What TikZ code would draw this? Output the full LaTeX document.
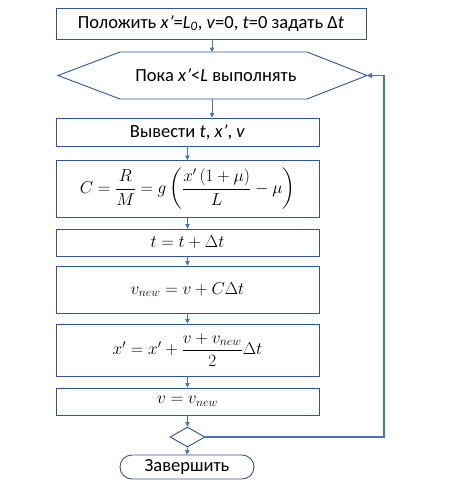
\documentclass[tikz,border=0pt]{standalone}
\usepackage{amsmath}
\usepackage[no-math]{fontspec}
\setmainfont{Carlito}
\usetikzlibrary{shapes.geometric,arrows.meta}
\definecolor{boxblue}{HTML}{2F5597}
\definecolor{arrblue}{HTML}{4472C4}
\tikzset{
  box/.style={draw=boxblue, line width=0.9pt, rectangle, inner sep=0pt, minimum width=263pt, font=\fontsize{18.5}{22}\selectfont},
  mbox/.style={box, font=\fontsize{17}{20}\selectfont},
  arr/.style={draw=arrblue, line width=0.7pt, -{Triangle[length=4.5pt,width=4.5pt]}},
  loopline/.style={draw=arrblue, line width=1.3pt, -{Triangle[length=5pt,width=5pt]}},
  txt/.style={font=\fontsize{18.5}{22}\selectfont, inner sep=0pt}
}
\begin{document}
\begin{tikzpicture}[x=1pt,y=-1pt]
\useasboundingbox (0,0) rectangle (456,488);
% start box
\node[box, minimum width=310pt, minimum height=31pt] (b1) at (211,23.5)
  {Положить \textit{x’}=\textit{L}\textsubscript{\textit{0}}, \textit{v}=0, \textit{t}=0 задать Δ\textit{t}};
% loop hexagon
\coordinate (hexL) at (58,75.5);
\coordinate (hexR) at (367,75.5);
\coordinate (hexT) at (212,52);
\coordinate (hexB) at (212,99);
\draw[boxblue, line width=0.9pt] (hexL) -- (120,52) -- (307,52) -- (hexR) -- (307,99) -- (120,99) -- cycle;
\node[txt] (hex) at (216,75.5) {Пока \textit{x’}<\textit{L} выполнять};
% body boxes
\node[box, minimum height=28pt] (b2) at (187.5,132) {Вывести \textit{t}, \textit{x’}, \textit{v}};
\node[mbox, minimum height=57pt] (bC) at (187.5,189)
  {$C=\dfrac{R}{M}=g\left(\dfrac{x'\,(1+\mu)}{L}-\mu\right)$};
\node[mbox, minimum height=27pt] (bt) at (187.5,242.5) {$t=t+\Delta t$};
\node[mbox, minimum height=47pt] (bvn) at (187.5,289.5) {$v_{new}=v+C\Delta t$};
\node[mbox, minimum height=52pt] (bx) at (187.5,350) {$x'=x'+\dfrac{v+v_{new}}{2}\Delta t$};
\node[mbox, minimum height=27pt] (bv) at (187.5,401.5) {$v=v_{new}$};
% decision and end
\node[diamond, draw=boxblue, line width=0.9pt, minimum width=35pt, minimum height=20pt, inner sep=0pt] (dia) at (187.5,437) {};
\node[draw=boxblue, line width=0.9pt, rectangle, rounded corners=12pt, minimum width=134pt, minimum height=24pt, inner sep=0pt, font=\fontsize{18.5}{22}\selectfont] (term) at (187,467) {Завершить};
% connectors
\draw[arr] (hexT |- b1.south) -- (hexT);
\draw[arr] (hexB) -- (hexB |- b2.north);
\draw[arr] (b2.south) -- (bC.north);
\draw[arr] (bC.south) -- (bt.north);
\draw[arr] (bt.south) -- (bvn.north);
\draw[arr] (bvn.south) -- (bx.north);
\draw[arr] (bx.south) -- (bv.north);
\draw[arr] (bv.south) -- (dia.north);
\draw[arr] (dia.south) -- (term.north);
\coordinate (loopc) at (384,75.5);
\draw[loopline] (dia.east) -| (loopc) -- (hexR);
\end{tikzpicture}
\end{document}
